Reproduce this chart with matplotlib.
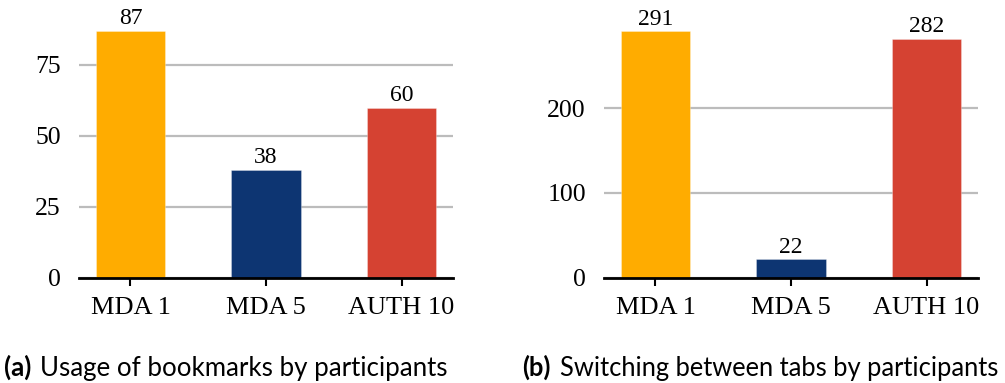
import matplotlib
matplotlib.use("Agg")
import matplotlib.pyplot as plt

categories = ["MDA 1", "MDA 5", "AUTH 10"]
bookmarks = [87, 38, 60]
tab_switches = [291, 22, 282]
bookmark_ticks = [0, 25, 50, 75]
tab_ticks = [0, 100, 200]
colors = ["#FFAC00", "#0D3572", "#D54232"]
captions = [("(a)", "Usage of bookmarks by participants"),
            ("(b)", "Switching between tabs by participants")]

W, H = 1005, 383
fig = plt.figure(figsize=(W / 100, H / 100), dpi=100)

serif = ["Liberation Serif", "DejaVu Serif"]


def panel(left_px, right_px, values, ticks, ymax):
    top_px, bottom_px = 25, 277.7
    ax = fig.add_axes([left_px / W, 1 - bottom_px / H,
                       (right_px - left_px) / W, (bottom_px - top_px) / H])
    x = list(range(len(values)))
    bars = ax.bar(x, values, width=0.51, color=colors, zorder=3,
                  edgecolor=[(1, 1, 1, 0.35)] * 3, linewidth=0.6)
    for b, v in zip(bars, values):
        ax.text(b.get_x() + b.get_width() / 2, v + ymax * 0.006, str(v),
                ha="center", va="bottom", fontsize=17, family=serif, zorder=4)
    ax.set_xlim(-0.38, 2.38)
    ax.set_ylim(0, ymax)
    ax.set_yticks(ticks)
    ax.set_yticklabels([str(t) for t in ticks], family=serif, fontsize=18.5)
    ax.set_xticks(x)
    ax.set_xticklabels(categories, family=serif, fontsize=19)
    ax.yaxis.grid(True, color="#bcbcbc", linewidth=1.6, zorder=0)
    ax.tick_params(axis="y", length=0, pad=13)
    ax.tick_params(axis="x", length=6, width=1.5, pad=8)
    for s in ["top", "right", "left"]:
        ax.spines[s].set_visible(False)
    ax.spines["bottom"].set_linewidth(2)
    ax.spines["bottom"].set_zorder(5)
    return ax


panel(79, 453, bookmarks, bookmark_ticks, 89.1)
panel(604, 978, tab_switches, tab_ticks, 298.3)

# Captions: bold label followed by plain description, fitted between x bounds
sans = ["Lato", "DejaVu Sans"]
bounds = [(4, 450), (522, 999)]
renderer = fig.canvas.get_renderer()
for (lbl, txt), (x0, x1) in zip(captions, bounds):
    size = 18.6
    while True:
        t1 = fig.text(x0 / W, 1 - 376 / H, lbl, fontsize=size,
                      fontweight="bold", family=sans, va="baseline", ha="left")
        bb = t1.get_window_extent(renderer)
        t2 = fig.text((bb.x1 + 9) / W, 1 - 376 / H, txt, fontsize=size,
                      family=sans, va="baseline", ha="left")
        end = t2.get_window_extent(renderer).x1
        if end <= x1 or size < 12:
            break
        t1.remove()
        t2.remove()
        size -= 0.2

fig.savefig("out.png", dpi=100)
